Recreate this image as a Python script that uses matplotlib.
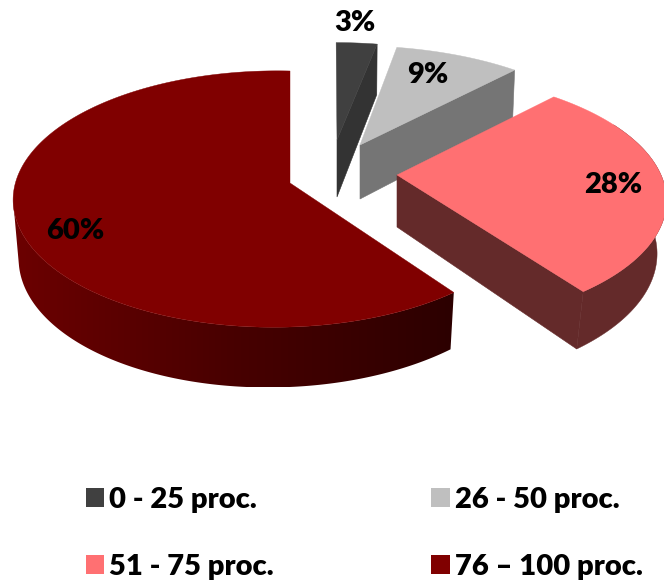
import numpy as np
import matplotlib
matplotlib.use("Agg")
import matplotlib.pyplot as plt
from matplotlib.patches import Patch, Polygon
from matplotlib.colors import to_rgb

# ---- data ----
categories = ["0 - 25 proc.", "26 - 50 proc.", "51 - 75 proc.", "76 \u2013 100 proc."]
values = [3, 9, 28, 60]
value_labels = ["3%", "9%", "28%", "60%"]

# ---- styles / layout (pixel space of the figure) ----
top_colors = ["#404040", "#bfbfbf", "#ff7072", "#800000"]
cut_colors = ["#333333", "#757575", "#642a2a", "#300000"]
rim_colors = [None, None, "#642a2a", None]
rim_gradient = ["#6c0000", "#480000", "#2c0000"]
apex = [(337, 140), (360, 145), (397, 175), (290, 183)]
rx = [251, 257, 264, 259.5]
ry = [112, 114, 122, 126]
shear = [-1, -6, -3, 0]
kv = [0.15, 0.15, 0.19, 0.125]
ku = [0, 0, 0, 0.055]
depth = [57, 54, 52, 55]
shrink = [0.99, 0.987, 0.965, 0.98]
label_xy = [(355, 23), (428, 75), (613, 185), (75, 231)]

W, H = 664, 580
fig = plt.figure(figsize=(W / 100, H / 100), dpi=100)
ax = fig.add_axes([0, 0, 1, 1])

FONT = "Lato"
WEIGHT = 800


def project(i, theta, r=1.0, bottom=False):
    """Map plane polar position to the picture with a perspective division."""
    u, v = r * np.sin(theta), r * np.cos(theta)
    d = 1 + kv[i] * v + ku[i] * u
    s = shrink[i] if bottom else 1.0
    x = apex[i][0] + s * (rx[i] * u + shear[i] * v) / d
    y = apex[i][1] - s * ry[i] * v / d
    if bottom:
        y = y + depth[i] / d
    return np.column_stack([np.atleast_1d(x), np.atleast_1d(y)])


fractions = np.array(values, dtype=float) / np.sum(values)
edges = np.concatenate([[0], np.cumsum(fractions)]) * 2 * np.pi

for i in range(len(values)):
    a0, a1 = edges[i], edges[i + 1]
    th = np.linspace(a0, a1, max(int((a1 - a0) * 80), 12))
    top_arc = project(i, th)
    bot_arc = project(i, th, bottom=True)
    top_apex = project(i, 0.0, r=0.0)
    bot_apex = project(i, 0.0, r=0.0, bottom=True)
    if i < 3:
        ax.add_patch(Polygon(np.vstack([top_apex, top_arc[-1:], bot_arc[-1:], bot_apex]),
                             closed=True, fc=cut_colors[i], ec=cut_colors[i], lw=0.4, zorder=2 + i))
    if i >= 2:
        if rim_colors[i] is not None:
            front = np.cos(th) < 0.45
            rim = np.vstack([top_arc[front], bot_arc[front][::-1]])
            ax.add_patch(Polygon(rim, closed=True, fc=rim_colors[i], ec=rim_colors[i], lw=0.3, zorder=2 + i))
        else:
            # the silhouette leaves the top face at its left extreme and
            # runs straight down to the tangent point on the lower arc
            j0 = int(np.argmin(top_arc[:, 0]))
            dy = bot_arc[:, 1] - top_arc[j0, 1]
            slope = np.where(dy > 1, (bot_arc[:, 0] - top_arc[j0, 0]) / np.maximum(dy, 1), np.inf)
            j1 = int(np.argmin(slope))
            rim = np.vstack([top_arc[:j0 + 1], bot_arc[:j1 + 1][::-1]])
            outline = Polygon(rim, closed=True, fc="none", ec="none", transform=ax.transData)
            ax.add_patch(outline)
            stops = np.array([to_rgb(c) for c in rim_gradient])
            pos = np.linspace(0, 1, len(stops))
            grid = np.linspace(0, 1, 256)
            shade = np.column_stack([np.interp(grid, pos, stops[:, c]) for c in range(3)])[None, :, :]
            im = ax.imshow(shade, extent=(rim[:, 0].min(), rim[:, 0].max(), rim[:, 1].max(), rim[:, 1].min()),
                           aspect="auto", interpolation="bilinear", zorder=2 + i)
            im.set_clip_path(outline)
    ax.add_patch(Polygon(np.vstack([top_apex, top_arc]), closed=True,
                         fc=top_colors[i], ec=top_colors[i], lw=0.3, zorder=2.5 + i))
    ax.text(*label_xy[i], value_labels[i], ha="center", va="center",
            fontsize=21, fontweight=WEIGHT, family=FONT, color="black", zorder=10)

ax.set_xlim(0, W)
ax.set_ylim(H, 0)
ax.axis("off")

handles = [Patch(fc=c, ec="none") for c in top_colors]
order = [0, 2, 1, 3]
leg = ax.legend([handles[k] for k in order], [categories[k] for k in order], ncol=2,
                loc="lower left", bbox_to_anchor=(86 / W, 0.0), bbox_transform=ax.transAxes,
                frameon=False, borderpad=0, borderaxespad=0.0,
                prop={"family": FONT, "weight": WEIGHT, "size": 21},
                handlelength=0.62, handleheight=0.62, handletextpad=0.18,
                columnspacing=5.4, labelspacing=1.42)

fig.savefig("out.png", dpi=100)
